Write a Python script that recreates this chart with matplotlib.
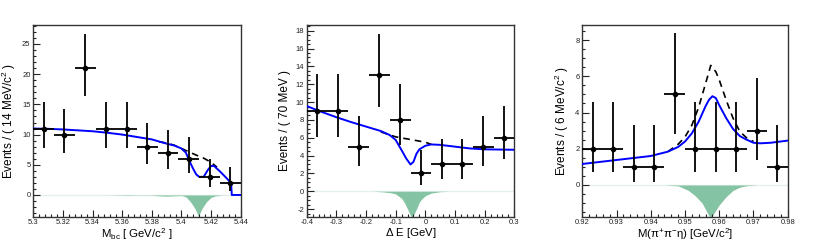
import numpy as np
import matplotlib
matplotlib.use('Agg')
import matplotlib.pyplot as plt
from matplotlib.ticker import MultipleLocator

plt.rcParams['font.family'] = ['Liberation Sans', 'DejaVu Sans']
plt.rcParams['mathtext.fontset'] = 'custom'
plt.rcParams['mathtext.rm'] = 'Liberation Sans'
plt.rcParams['mathtext.it'] = 'Liberation Sans'

# Mbc panel
mbc_x = [5.307, 5.321, 5.335, 5.349, 5.363, 5.377, 5.391, 5.405, 5.419, 5.433]
mbc_n = [11, 10, 21, 11, 11, 8, 7, 6, 3, 2]
mbc_lo = [7.7, 6.9, 16.4, 7.7, 7.7, 5.2, 4.3, 3.6, 1.4, 0.7]
mbc_hi = [15.4, 14.3, 26.7, 15.4, 15.4, 12.0, 10.8, 9.6, 5.9, 4.7]
mbc_fit_x = [5.30, 5.31, 5.32, 5.33, 5.34, 5.35, 5.36, 5.37, 5.38, 5.39, 5.395, 5.40, 5.403,
             5.406, 5.408, 5.41, 5.412, 5.415, 5.418, 5.42, 5.422, 5.426, 5.43, 5.4335, 5.434, 5.44]
mbc_fit_y = [11.0, 10.95, 10.85, 10.7, 10.55, 10.3, 10.0, 9.6, 9.2, 8.5, 8.2, 7.7, 7.0,
             5.3, 4.3, 3.4, 3.0, 3.0, 4.2, 4.8, 4.8, 3.9, 2.9, 2.0, 0.0, 0.0]
mbc_bkg_x = [5.385, 5.39, 5.395, 5.40, 5.405, 5.41, 5.415, 5.42, 5.424]
mbc_bkg_y = [8.8, 8.6, 8.25, 7.7, 7.15, 6.6, 6.1, 5.4, 4.6]
mbc_sig_x = [5.30, 5.35, 5.36, 5.365, 5.37, 5.38, 5.385, 5.39, 5.395, 5.40, 5.403, 5.406, 5.409,
             5.4115, 5.414, 5.417, 5.42, 5.423, 5.427, 5.43, 5.44]
mbc_sig_y = [0, 0, -0.05, -0.08, -0.03, -0.05, -0.15, -0.2, -0.15, -0.1, -0.3, -1.1, -2.2,
             -3.5, -2.2, -1.1, -0.4, -0.15, -0.03, 0, 0]

# Delta E panel
de_x = [-0.365, -0.295, -0.225, -0.155, -0.085, -0.015, 0.055, 0.125, 0.195, 0.265]
de_n = [9, 9, 5, 13, 8, 2, 3, 3, 5, 6]
de_lo = [6.1, 6.1, 2.8, 9.4, 5.2, 0.7, 1.4, 1.4, 2.8, 3.6]
de_hi = [13.1, 13.1, 8.4, 17.6, 12.0, 4.6, 5.9, 5.9, 8.4, 9.6]
de_fit_x = [-0.4, -0.35, -0.3, -0.25, -0.2, -0.15, -0.12, -0.1, -0.08, -0.065, -0.05, -0.04,
            -0.03, -0.02, 0.0, 0.02, 0.05, 0.1, 0.15, 0.2, 0.3]
de_fit_y = [9.55, 8.9, 8.3, 7.75, 7.25, 6.75, 6.3, 5.75, 4.6, 3.7, 3.0, 3.3,
            4.2, 4.7, 5.1, 5.25, 5.2, 5.0, 4.8, 4.7, 4.65]
de_bkg_x = [-0.15, -0.1, -0.05, 0.0, 0.02]
de_bkg_y = [6.65, 6.1, 5.8, 5.5, 5.25]
de_sig_x = [-0.4, -0.18, -0.15, -0.12, -0.1, -0.08, -0.07, -0.06, -0.05, -0.045, -0.04, -0.03,
            -0.02, -0.01, 0.0, 0.02, 0.05, 0.08, 0.3]
de_sig_y = [0, 0, -0.05, -0.15, -0.3, -0.8, -1.3, -2.0, -2.7, -2.9, -2.7, -2.0,
            -1.2, -0.8, -0.5, -0.2, -0.05, 0, 0]

# M(pi pi eta) panel
m_x = [0.923, 0.929, 0.935, 0.941, 0.947, 0.953, 0.959, 0.965, 0.971, 0.977]
m_n = [2, 2, 1, 1, 5, 2, 2, 2, 3, 1]
m_lo = [0.7, 0.7, 0.17, 0.17, 2.8, 0.7, 0.7, 0.7, 1.4, 0.17]
m_hi = [4.6, 4.6, 3.3, 3.3, 8.4, 4.6, 4.6, 4.6, 5.9, 3.3]
m_fit_x = [0.92, 0.93, 0.94, 0.945, 0.948, 0.95, 0.952, 0.954, 0.956, 0.957, 0.958, 0.959,
           0.96, 0.962, 0.964, 0.966, 0.968, 0.97, 0.972, 0.975, 0.98]
m_fit_y = [1.16, 1.38, 1.6, 1.84, 2.1, 2.4, 2.85, 3.5, 4.35, 4.7, 4.9, 4.8,
           4.4, 3.7, 3.1, 2.7, 2.5, 2.33, 2.3, 2.33, 2.45]
m_bkg_x = [0.945, 0.948, 0.95, 0.952, 0.954, 0.956, 0.957, 0.9575, 0.959, 0.96, 0.962,
           0.964, 0.966, 0.968, 0.97]
m_bkg_y = [1.84, 2.25, 2.65, 3.3, 4.3, 5.6, 6.25, 6.6, 6.25, 5.8, 4.7,
           3.7, 2.95, 2.6, 2.4]
m_sig_x = [0.92, 0.944, 0.948, 0.951, 0.953, 0.955, 0.956, 0.957, 0.9575, 0.958, 0.959, 0.96,
           0.962, 0.964, 0.966, 0.968, 0.971, 0.98]
m_sig_y = [0, 0, -0.05, -0.3, -0.6, -1.0, -1.35, -1.7, -1.8, -1.7, -1.4, -1.1,
           -0.65, -0.3, -0.12, -0.04, 0, 0]

panels = [
    dict(x=mbc_x, n=mbc_n, lo=mbc_lo, hi=mbc_hi, bw=0.014,
         fx=mbc_fit_x, fy=mbc_fit_y, bx=mbc_bkg_x, by=mbc_bkg_y, sx=mbc_sig_x, sy=mbc_sig_y,
         xlim=(5.3, 5.44), ylim=(-3.7, 28.1), xmaj=0.02, xmin=0.004, ymaj=5, ymin=1,
         xlab='M$_{\\mathrm{bc}}$ [ GeV/c$^{\\mathrm{2}}$ ]', ylab='Events / ( 14 MeV/c$^{\\mathrm{2}}$ )',
         pos=[0.0405, 0.1094, 0.2523, 0.787]),
    dict(x=de_x, n=de_n, lo=de_lo, hi=de_hi, bw=0.07,
         fx=de_fit_x, fy=de_fit_y, bx=de_bkg_x, by=de_bkg_y, sx=de_sig_x, sy=de_sig_y,
         xlim=(-0.4, 0.3), ylim=(-2.85, 18.6), xmaj=0.1, xmin=0.02, ymaj=2, ymin=0.5,
         xlab='$\\Delta$ E [GeV]', ylab='Events / ( 70 MeV )',
         pos=[0.3731, 0.1119, 0.2526, 0.7844]),
    dict(x=m_x, n=m_n, lo=m_lo, hi=m_hi, bw=0.006,
         fx=m_fit_x, fy=m_fit_y, bx=m_bkg_x, by=m_bkg_y, sx=m_sig_x, sy=m_sig_y,
         xlim=(0.92, 0.98), ylim=(-1.75, 8.83), xmaj=0.01, xmin=0.002, ymaj=2, ymin=0.5,
         xlab='M($\\mathrm{\\pi^{+}\\pi^{-}\\eta}$) [GeV/c$^{\\mathrm{2}}$]', ylab='Events / ( 6 MeV/c$^{\\mathrm{2}}$ )',
         pos=[0.7084, 0.1119, 0.2499, 0.7857]),
]

fig = plt.figure(figsize=(8.22, 2.44), dpi=100)
green = '#84c3a3'
for p in panels:
    ax = fig.add_axes(p['pos'])
    ax.axhline(0, color='#e4f1ea', lw=1, zorder=1)
    ax.fill_between(p['sx'], p['sy'], 0, color=green, lw=0, zorder=1)
    ax.plot(p['bx'], p['by'], color='black', lw=1.2, ls=(0, (4, 3)), zorder=3)
    ax.plot(p['fx'], p['fy'], color='#0000ff', lw=1.4, zorder=4)
    n = np.array(p['n'], float)
    yerr = [n - np.array(p['lo']), np.array(p['hi']) - n]
    ax.errorbar(p['x'], n, xerr=p['bw'] / 2, yerr=yerr, fmt='o', color='black',
                ms=3, elinewidth=1.3, capsize=0, zorder=5)
    ax.set_xlim(p['xlim'])
    ax.set_ylim(p['ylim'])
    ax.xaxis.set_major_locator(MultipleLocator(p['xmaj']))
    ax.xaxis.set_minor_locator(MultipleLocator(p['xmin']))
    ax.yaxis.set_major_locator(MultipleLocator(p['ymaj']))
    ax.yaxis.set_minor_locator(MultipleLocator(p['ymin']))
    ax.xaxis.set_major_formatter(matplotlib.ticker.FormatStrFormatter('%g'))
    ax.yaxis.set_major_formatter(matplotlib.ticker.FormatStrFormatter('%g'))
    ax.tick_params(which='both', direction='in', labelsize=5.5, colors='#222222', width=0.8)
    ax.tick_params(which='major', length=5)
    ax.tick_params(which='minor', length=2.5)
    ax.tick_params(axis='x', pad=1.5)
    ax.tick_params(axis='y', pad=2)
    for s in ax.spines.values():
        s.set_color('#333333')
        s.set_linewidth(1.0)
    ax.set_xlabel(p['xlab'], fontsize=8.2, labelpad=0)
    ax.set_ylabel(p['ylab'], fontsize=8.5, labelpad=3)

fig.savefig('out.png', dpi=100)
